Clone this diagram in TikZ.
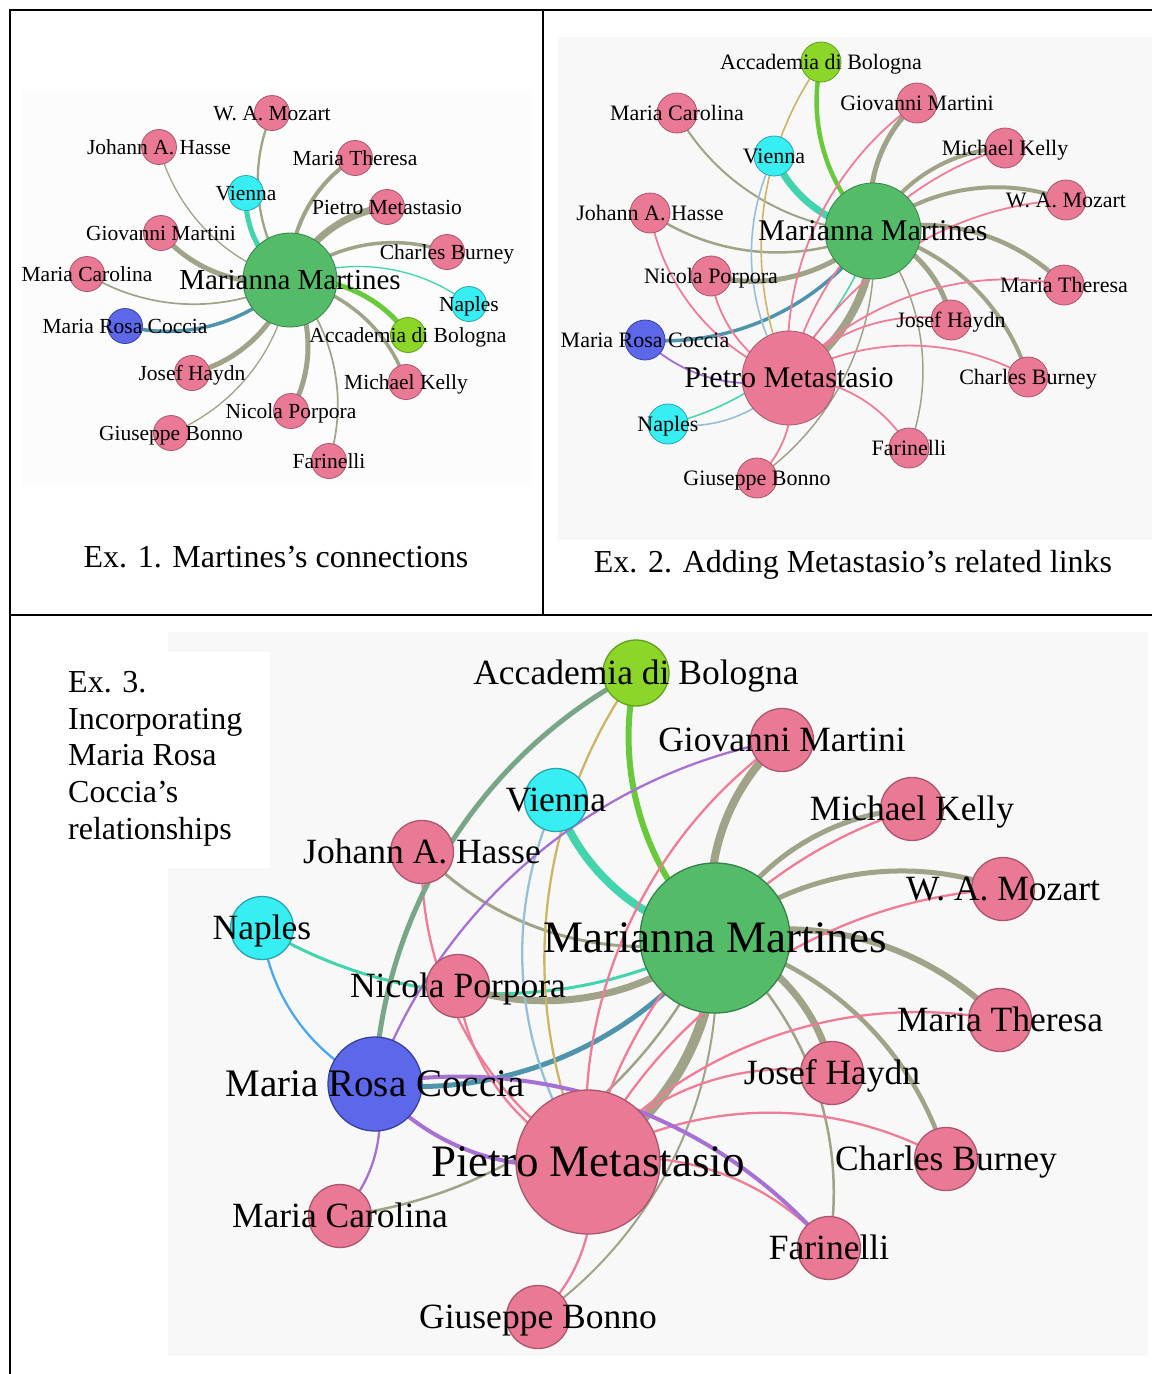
\documentclass[tikz,border=0pt]{standalone}
\usepackage{fontspec}
\setmainfont{Liberation Serif}
\pgfdeclarelayer{back}
\pgfdeclarelayer{links}
\pgfdeclarelayer{front}
\pgfsetlayers{back,links,main,front}

% node colours
\definecolor{pinkfill}{RGB}{233,121,148}
\definecolor{pinkline}{RGB}{172,86,110}
\definecolor{mmfill}{RGB}{84,188,104}
\definecolor{mmline}{RGB}{52,132,72}
\definecolor{cyanfill}{RGB}{55,238,242}
\definecolor{cyanline}{RGB}{40,165,175}
\definecolor{bluefill}{RGB}{93,103,233}
\definecolor{blueline}{RGB}{55,65,160}
\definecolor{limefill}{RGB}{139,214,41}
\definecolor{limeline}{RGB}{100,160,30}
% link colours (mix of the two end colours)
\definecolor{c-olive}{RGB}{160,163,135}
\definecolor{c-pink}{RGB}{240,125,152}
\definecolor{c-teal}{RGB}{66,212,172}
\definecolor{c-steel}{RGB}{78,148,172}
\definecolor{c-green}{RGB}{104,202,58}
\definecolor{c-lblue}{RGB}{150,192,214}
\definecolor{c-tan}{RGB}{204,182,102}
\definecolor{c-purple}{RGB}{166,112,212}
\definecolor{c-blue}{RGB}{74,168,240}
\definecolor{c-sage}{RGB}{122,166,136}
\definecolor{panelA}{RGB}{252,252,252}
\definecolor{panelB}{RGB}{248,248,248}

\tikzset{
  vp/.style={circle,inner sep=0pt,fill=pinkfill,draw=pinkline},
  vg/.style={circle,inner sep=0pt,fill=mmfill,draw=mmline},
  vc/.style={circle,inner sep=0pt,fill=cyanfill,draw=cyanline},
  vu/.style={circle,inner sep=0pt,fill=bluefill,draw=blueline},
  vl/.style={circle,inner sep=0pt,fill=limefill,draw=limeline},
  pa/.style={line width=0.8pt},
  pc/.style={line width=1.3pt},
  t1/.style={inner sep=0pt,text height=14.2pt,text depth=0pt,font=\fontsize{21.5}{24}\selectfont},
  T1/.style={inner sep=0pt,text height=19.1pt,text depth=0pt,font=\fontsize{29}{32}\selectfont},
  t2/.style={inner sep=0pt,text height=14.5pt,text depth=0pt,font=\fontsize{22}{25}\selectfont},
  T2/.style={inner sep=0pt,text height=19.8pt,text depth=0pt,font=\fontsize{30}{33}\selectfont},
  t3/.style={inner sep=0pt,text height=23.4pt,text depth=0pt,font=\fontsize{35.5}{38}\selectfont},
  m3/.style={inner sep=0pt,text height=25.7pt,text depth=0pt,font=\fontsize{39}{42}\selectfont},
  T3/.style={inner sep=0pt,text height=29.7pt,text depth=0pt,font=\fontsize{45}{48}\selectfont},
  captxt/.style={inner sep=0pt,font=\fontsize{32}{36}\selectfont,anchor=base},
  captxtl/.style={inner sep=0pt,font=\fontsize{32}{36}\selectfont,anchor=base west},
  lnk/.style={bend left=30,looseness=0.91},
  olv/.style={draw=c-olive},
  pnk/.style={draw=c-pink},
  tel/.style={draw=c-teal},
  stl/.style={draw=c-steel},
  grn/.style={draw=c-green},
  lbu/.style={draw=c-lblue},
  tnn/.style={draw=c-tan},
  pur/.style={draw=c-purple},
  blu/.style={draw=c-blue},
  sag/.style={draw=c-sage},
}

\begin{document}
\begin{tikzpicture}[x=1pt,y=1pt]
\useasboundingbox (0,0) rectangle (1152,-1374);

% ---------- panel backgrounds and table rules ----------
\begin{pgfonlayer}{back}
  \fill[white] (0,0) rectangle (1152,-1374);
  \fill[panelA] (22,-89) rectangle (532,-487);
  \fill[panelB] (557,-37) rectangle (1152,-540);
  \fill[panelB] (168,-632) rectangle (1148,-1356);
  \fill[white] (168,-652) rectangle (270,-868);
  \draw[line width=2pt] (9.7,-1374) -- (9.7,-10) -- (1152,-10);
  \draw[line width=2pt] (543,-10) -- (543,-615);
  \draw[line width=2pt] (9.7,-615) -- (1152,-615);
\end{pgfonlayer}

% ================= Ex. 1 =================
\node[vg,pa,minimum size=94] (a-mm) at (290,-280) {};
\node[vp,pa,minimum size=35] (a-moz) at (272,-113) {};
\node[vp,pa,minimum size=35] (a-has) at (159,-147) {};
\node[vp,pa,minimum size=35] (a-the) at (355,-158) {};
\node[vc,pa,minimum size=35] (a-vie) at (246,-193) {};
\node[vp,pa,minimum size=35] (a-met) at (387,-207) {};
\node[vp,pa,minimum size=35] (a-mar) at (161,-233) {};
\node[vp,pa,minimum size=35] (a-bur) at (447,-252) {};
\node[vp,pa,minimum size=35] (a-car) at (87,-274) {};
\node[vc,pa,minimum size=35] (a-nap) at (469,-304) {};
\node[vu,pa,minimum size=35] (a-coc) at (125,-326) {};
\node[vl,pa,minimum size=35] (a-acc) at (408,-335) {};
\node[vp,pa,minimum size=35] (a-hay) at (192,-373) {};
\node[vp,pa,minimum size=35] (a-kel) at (406,-382) {};
\node[vp,pa,minimum size=35] (a-por) at (291,-411) {};
\node[vp,pa,minimum size=35] (a-bon) at (171,-433) {};
\node[vp,pa,minimum size=35] (a-far) at (329,-461) {};

\begin{pgfonlayer}{links}
  \draw[olv,line width=2.3] (a-mm.center) to[lnk] (a-moz.center);
  \draw[olv,line width=1.3] (a-mm.center) to[lnk] (a-has.center);
  \draw[olv,line width=4]   (a-mm.center) to[lnk] (a-the.center);
  \draw[tel,line width=5]   (a-mm.center) to[lnk] (a-vie.center);
  \draw[olv,line width=7]   (a-mm.center) to[lnk] (a-met.center);
  \draw[olv,line width=5]   (a-mm.center) to[lnk] (a-mar.center);
  \draw[olv,line width=3.5] (a-mm.center) to[lnk] (a-bur.center);
  \draw[olv,line width=1.7] (a-mm.center) to[lnk] (a-car.center);
  \draw[tel,line width=1.3] (a-mm.center) to[lnk] (a-nap.center);
  \draw[stl,line width=3.5] (a-mm.center) to[lnk] (a-coc.center);
  \draw[grn,line width=5]   (a-mm.center) to[lnk] (a-acc.center);
  \draw[olv,line width=5]   (a-mm.center) to[lnk] (a-hay.center);
  \draw[olv,line width=3.5] (a-mm.center) to[lnk] (a-kel.center);
  \draw[olv,line width=5]   (a-mm.center) to[lnk] (a-por.center);
  \draw[olv,line width=1.3] (a-mm.center) to[lnk] (a-bon.center);
  \draw[olv,line width=1.7] (a-mm.center) to[lnk] (a-far.center);
\end{pgfonlayer}

\begin{pgfonlayer}{front}
  \node[T1] (a-mm-t)  at (a-mm)  {Marianna Martines};
  \node[t1] (a-moz-t) at (a-moz) {W. A. Mozart};
  \node[t1] (a-has-t) at (a-has) {Johann A. Hasse};
  \node[t1] (a-the-t) at (a-the) {Maria Theresa};
  \node[t1] (a-vie-t) at (a-vie) {Vienna};
  \node[t1] (a-met-t) at (a-met) {Pietro Metastasio};
  \node[t1] (a-mar-t) at (a-mar) {Giovanni Martini};
  \node[t1] (a-bur-t) at (a-bur) {Charles Burney};
  \node[t1] (a-car-t) at (a-car) {Maria Carolina};
  \node[t1] (a-nap-t) at (a-nap) {Naples};
  \node[t1] (a-coc-t) at (a-coc) {Maria Rosa Coccia};
  \node[t1] (a-acc-t) at (a-acc) {Accademia di Bologna};
  \node[t1] (a-hay-t) at (a-hay) {Josef Haydn};
  \node[t1] (a-kel-t) at (a-kel) {Michael Kelly};
  \node[t1] (a-por-t) at (a-por) {Nicola Porpora};
  \node[t1] (a-bon-t) at (a-bon) {Giuseppe Bonno};
  \node[t1] (a-far-t) at (a-far) {Farinelli};
  \node[captxt] (cap1) at (276,-567.5) {Ex. 1. Martines’s connections};
\end{pgfonlayer}

% ================= Ex. 2 =================
\node[vg,pa,minimum size=96] (b-mm) at (873,-231) {};
\node[vl,pa,minimum size=40] (b-acc) at (821,-62) {};
\node[vp,pa,minimum size=40] (b-mar) at (917,-103) {};
\node[vp,pa,minimum size=40] (b-car) at (677,-113) {};
\node[vc,pa,minimum size=40] (b-vie) at (774,-156) {};
\node[vp,pa,minimum size=40] (b-kel) at (1005,-148) {};
\node[vp,pa,minimum size=40] (b-moz) at (1066,-200) {};
\node[vp,pa,minimum size=40] (b-has) at (650,-213) {};
\node[vp,pa,minimum size=40] (b-por) at (711,-276) {};
\node[vp,pa,minimum size=40] (b-the) at (1064,-285) {};
\node[vp,pa,minimum size=40] (b-hay) at (951,-320) {};
\node[vu,pa,minimum size=40] (b-coc) at (645,-340) {};
\node[vp,pa,minimum size=94] (b-met) at (789,-378) {};
\node[vp,pa,minimum size=40] (b-bur) at (1028,-377) {};
\node[vc,pa,minimum size=40] (b-nap) at (668,-424) {};
\node[vp,pa,minimum size=40] (b-far) at (909,-448) {};
\node[vp,pa,minimum size=40] (b-bon) at (757,-478) {};

\begin{pgfonlayer}{links}
  \draw[olv,line width=4]   (b-mm.center) to[lnk] (b-moz.center);
  \draw[olv,line width=2.5] (b-mm.center) to[lnk] (b-has.center);
  \draw[olv,line width=4.5] (b-mm.center) to[lnk] (b-the.center);
  \draw[tel,line width=7]   (b-mm.center) to[lnk] (b-vie.center);
  \draw[olv,line width=8]   (b-mm.center) to[lnk] (b-met.center);
  \draw[olv,line width=5]   (b-mm.center) to[lnk] (b-mar.center);
  \draw[olv,line width=4]   (b-mm.center) to[lnk] (b-bur.center);
  \draw[olv,line width=2]   (b-mm.center) to[lnk] (b-car.center);
  \draw[tel,line width=1.5] (b-mm.center) to[lnk] (b-nap.center);
  \draw[stl,line width=3.5] (b-mm.center) to[lnk] (b-coc.center);
  \draw[grn,line width=4.5] (b-mm.center) to[lnk] (b-acc.center);
  \draw[olv,line width=5]   (b-mm.center) to[lnk] (b-hay.center);
  \draw[olv,line width=4]   (b-mm.center) to[lnk] (b-kel.center);
  \draw[olv,line width=5]   (b-mm.center) to[lnk] (b-por.center);
  \draw[olv,line width=1.5] (b-mm.center) to[lnk] (b-bon.center);
  \draw[olv,line width=1.5] (b-mm.center) to[lnk] (b-far.center);
  \draw[pnk,line width=1.8] (b-met.center) to[lnk] (b-mar.center);
  \draw[pnk,line width=1.8] (b-met.center) to[lnk] (b-kel.center);
  \draw[pnk,line width=1.8] (b-met.center) to[lnk] (b-moz.center);
  \draw[pnk,line width=1.8] (b-met.center) to[lnk] (b-has.center);
  \draw[pnk,line width=1.8] (b-met.center) to[lnk] (b-por.center);
  \draw[pnk,line width=1.8] (b-met.center) to[lnk] (b-the.center);
  \draw[pnk,line width=1.8] (b-met.center) to[lnk] (b-hay.center);
  \draw[pnk,line width=1.8] (b-met.center) to[lnk] (b-bur.center);
  \draw[pnk,line width=1.8] (b-met.center) to[lnk] (b-far.center);
  \draw[pnk,line width=1.8] (b-met.center) to[lnk] (b-bon.center);
  \draw[pur,line width=1.8] (b-met.center) to[lnk] (b-coc.center);
  \draw[lbu,line width=1.6] (b-met.center) to[lnk] (b-vie.center);
  \draw[lbu,line width=1.6] (b-met.center) to[lnk] (b-nap.center);
  \draw[tnn,line width=1.6] (b-met.center) to[lnk] (b-acc.center);
\end{pgfonlayer}

\begin{pgfonlayer}{front}
  \node[T2] (b-mm-t)  at (b-mm)  {Marianna Martines};
  \node[t2] (b-acc-t) at (b-acc) {Accademia di Bologna};
  \node[t2] (b-mar-t) at (b-mar) {Giovanni Martini};
  \node[t2] (b-car-t) at (b-car) {Maria Carolina};
  \node[t2] (b-vie-t) at (b-vie) {Vienna};
  \node[t2] (b-kel-t) at (b-kel) {Michael Kelly};
  \node[t2] (b-moz-t) at (b-moz) {W. A. Mozart};
  \node[t2] (b-has-t) at (b-has) {Johann A. Hasse};
  \node[t2] (b-por-t) at (b-por) {Nicola Porpora};
  \node[t2] (b-the-t) at (b-the) {Maria Theresa};
  \node[t2] (b-hay-t) at (b-hay) {Josef Haydn};
  \node[t2] (b-coc-t) at (b-coc) {Maria Rosa Coccia};
  \node[T2] (b-met-t) at (b-met) {Pietro Metastasio};
  \node[t2] (b-bur-t) at (b-bur) {Charles Burney};
  \node[t2] (b-nap-t) at (b-nap) {Naples};
  \node[t2] (b-far-t) at (b-far) {Farinelli};
  \node[t2] (b-bon-t) at (b-bon) {Giuseppe Bonno};
  \node[captxt] (cap2) at (853,-572.5) {Ex. 2. Adding Metastasio’s related links};
\end{pgfonlayer}

% ================= Ex. 3 =================
\node[vg,pc,minimum size=150] (c-mm) at (715,-938) {};
\node[vl,pc,minimum size=66] (c-acc) at (636,-673) {};
\node[vp,pc,minimum size=63] (c-mar) at (782,-740) {};
\node[vc,pc,minimum size=63] (c-vie) at (556,-800) {};
\node[vp,pc,minimum size=63] (c-kel) at (912,-809) {};
\node[vp,pc,minimum size=63] (c-has) at (422,-852) {};
\node[vp,pc,minimum size=63] (c-moz) at (1003,-889) {};
\node[vc,pc,minimum size=63] (c-nap) at (262,-928) {};
\node[vp,pc,minimum size=63] (c-por) at (458,-986) {};
\node[vp,pc,minimum size=63] (c-the) at (1000,-1020) {};
\node[vp,pc,minimum size=63] (c-hay) at (832,-1073) {};
\node[vu,pc,minimum size=94] (c-coc) at (375,-1084) {};
\node[vp,pc,minimum size=144] (c-met) at (588,-1162) {};
\node[vp,pc,minimum size=63] (c-bur) at (946,-1159) {};
\node[vp,pc,minimum size=63] (c-car) at (340,-1216) {};
\node[vp,pc,minimum size=63] (c-far) at (829,-1248) {};
\node[vp,pc,minimum size=63] (c-bon) at (538,-1317) {};

\begin{pgfonlayer}{links}
  \draw[olv,line width=5]   (c-mm.center) to[lnk] (c-moz.center);
  \draw[olv,line width=3]   (c-mm.center) to[lnk] (c-has.center);
  \draw[olv,line width=6]   (c-mm.center) to[lnk] (c-the.center);
  \draw[tel,line width=8]   (c-mm.center) to[lnk] (c-vie.center);
  \draw[olv,line width=10]  (c-mm.center) to[lnk] (c-met.center);
  \draw[olv,line width=8]   (c-mm.center) to[lnk] (c-mar.center);
  \draw[olv,line width=4.5] (c-mm.center) to[lnk] (c-bur.center);
  \draw[olv,line width=2.5] (c-mm.center) to[lnk] (c-car.center);
  \draw[tel,line width=3]   (c-mm.center) to[lnk] (c-nap.center);
  \draw[stl,line width=5]   (c-mm.center) to[lnk] (c-coc.center);
  \draw[grn,line width=6]   (c-mm.center) to[lnk] (c-acc.center);
  \draw[olv,line width=7]   (c-mm.center) to[lnk] (c-hay.center);
  \draw[olv,line width=5]   (c-mm.center) to[lnk] (c-kel.center);
  \draw[olv,line width=7]   (c-mm.center) to[lnk] (c-por.center);
  \draw[olv,line width=2]   (c-mm.center) to[lnk] (c-bon.center);
  \draw[olv,line width=2.5] (c-mm.center) to[lnk] (c-far.center);
  \draw[pnk,line width=2.3] (c-met.center) to[lnk] (c-mar.center);
  \draw[pnk,line width=2.3] (c-met.center) to[lnk] (c-kel.center);
  \draw[pnk,line width=2.3] (c-met.center) to[lnk] (c-moz.center);
  \draw[pnk,line width=2.3] (c-met.center) to[lnk] (c-has.center);
  \draw[pnk,line width=2.3] (c-met.center) to[lnk] (c-por.center);
  \draw[pnk,line width=2.3] (c-met.center) to[lnk] (c-the.center);
  \draw[pnk,line width=2.3] (c-met.center) to[lnk] (c-hay.center);
  \draw[pnk,line width=2.3] (c-met.center) to[lnk] (c-bur.center);
  \draw[pnk,line width=2.3] (c-met.center) to[lnk] (c-far.center);
  \draw[pnk,line width=2.3] (c-met.center) to[lnk] (c-bon.center);
  \draw[lbu,line width=2.3] (c-met.center) to[lnk] (c-vie.center);
  \draw[tnn,line width=2.3] (c-met.center) to[lnk] (c-acc.center);
  \draw[pur,line width=4]   (c-met.center) to[lnk] (c-coc.center);
  \draw[blu,line width=2.3] (c-coc.center) to[lnk] (c-nap.center);
  \draw[sag,line width=5]   (c-coc.center) to[lnk] (c-acc.center);
  \draw[pur,line width=2.3] (c-coc.center) to[lnk] (c-mar.center);
  \draw[pur,line width=4]   (c-coc.center) to[lnk] (c-far.center);
  \draw[pur,line width=2.3] (c-coc.center) to[lnk] (c-car.center);
\end{pgfonlayer}

\begin{pgfonlayer}{front}
  \node[T3] (c-mm-t)  at (c-mm)  {Marianna Martines};
  \node[t3] (c-acc-t) at (c-acc) {Accademia di Bologna};
  \node[t3] (c-mar-t) at (c-mar) {Giovanni Martini};
  \node[t3] (c-vie-t) at (c-vie) {Vienna};
  \node[t3] (c-kel-t) at (c-kel) {Michael Kelly};
  \node[t3] (c-has-t) at (c-has) {Johann A. Hasse};
  \node[t3] (c-moz-t) at (c-moz) {W. A. Mozart};
  \node[t3] (c-nap-t) at (c-nap) {Naples};
  \node[t3] (c-por-t) at (c-por) {Nicola Porpora};
  \node[t3] (c-the-t) at (c-the) {Maria Theresa};
  \node[t3] (c-hay-t) at (c-hay) {Josef Haydn};
  \node[m3] (c-coc-t) at (c-coc) {Maria Rosa Coccia};
  \node[T3] (c-met-t) at (c-met) {Pietro Metastasio};
  \node[t3] (c-bur-t) at (c-bur) {Charles Burney};
  \node[t3] (c-car-t) at (c-car) {Maria Carolina};
  \node[t3] (c-far-t) at (c-far) {Farinelli};
  \node[t3] (c-bon-t) at (c-bon) {Giuseppe Bonno};
  \node[captxtl] (cap3a) at (68,-692.5) {Ex. 3.};
  \node[captxtl] (cap3b) at (68,-729.5) {Incorporating};
  \node[captxtl] (cap3c) at (68,-765.5) {Maria Rosa};
  \node[captxtl] (cap3d) at (68,-802.5) {Coccia’s};
  \node[captxtl] (cap3e) at (68,-839.5) {relationships};
\end{pgfonlayer}

\end{tikzpicture}
\end{document}
